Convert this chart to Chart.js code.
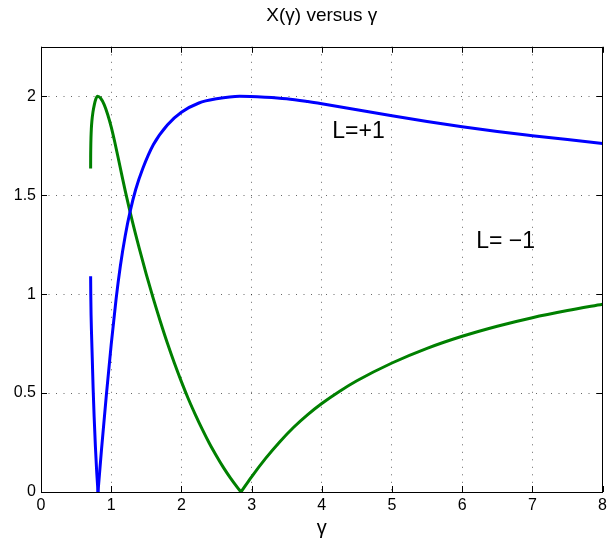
<!DOCTYPE html>
<html>
<head>
<meta charset="utf-8">
<script src="https://cdn.jsdelivr.net/npm/chart.js@4"></script>
<style>
  html, body { margin: 0; padding: 0; background: #fff; }
  canvas { display: block; }
</style>
</head>
<body>
<canvas id="chart" width="611" height="538"></canvas>
<script>
// L=+1 curve (blue), split at the cusp where it touches zero
const gammaPlusLeft = [0.707, 0.709, 0.713, 0.72, 0.73, 0.742, 0.757, 0.775, 0.793, 0.812];
const xPlusLeft = [1.09, 1.0, 0.9, 0.8, 0.68, 0.53, 0.38, 0.23, 0.105, 0];
const gammaPlusRight = [0.812, 0.86, 0.93, 1.0, 1.07, 1.13, 1.2, 1.27, 1.35, 1.45, 1.6, 1.8, 2.0, 2.25, 2.5, 2.83, 3.2, 3.5, 3.8, 4.0, 4.5, 5.0, 5.5, 6.0, 6.5, 7.0, 7.5, 8.0];
const xPlusRight = [0, 0.206, 0.486, 0.745, 0.976, 1.141, 1.295, 1.418, 1.53, 1.635, 1.755, 1.855, 1.919, 1.966, 1.987, 2.0, 1.995, 1.987, 1.973, 1.962, 1.932, 1.902, 1.873, 1.846, 1.822, 1.801, 1.781, 1.761];

// L=-1 curve (green), split at its cusp
const gammaMinusLeft = [0.707, 0.7075, 0.709, 0.712, 0.717, 0.725, 0.74, 0.76, 0.78, 0.805, 0.85, 0.9, 0.95, 1.0, 1.05, 1.1, 1.15, 1.2, 1.3, 1.4, 1.5, 1.6, 1.7, 1.8, 1.9, 2.0, 2.1, 2.2, 2.3, 2.4, 2.5, 2.6, 2.7, 2.8, 2.849];
const xMinusLeft = [1.635, 1.69, 1.74, 1.79, 1.835, 1.875, 1.92, 1.958, 1.985, 2.0, 1.99, 1.958, 1.908, 1.845, 1.77, 1.688, 1.604, 1.522, 1.37, 1.231, 1.1, 0.977, 0.862, 0.753, 0.652, 0.558, 0.47, 0.39, 0.315, 0.245, 0.182, 0.123, 0.07, 0.022, 0];
const gammaMinusRight = [2.849, 3.0, 3.2, 3.4, 3.6, 3.8, 4.0, 4.25, 4.5, 5.0, 5.5, 6.0, 6.5, 7.0, 7.5, 8.0];
const xMinusRight = [0, 0.077, 0.17, 0.253, 0.327, 0.391, 0.447, 0.508, 0.562, 0.652, 0.726, 0.787, 0.838, 0.881, 0.917, 0.949];

const xTickValues = [0, 1, 2, 3, 4, 5, 6, 7, 8];
const yTickValues = [0, 0.5, 1, 1.5, 2];

const curveLabels = [
    { text: 'L=+1', gamma: 4.15, value: 1.823 },
    { text: 'L= \u22121', gamma: 6.2, value: 1.265 },
];

const BLUE = '#0000ff';
const GREEN = '#008000';
const GRID = 'rgba(0,0,0,0.6)';
const FONT = '"Liberation Sans", Arial, Helvetica, sans-serif';

Chart.defaults.font.family = FONT;
Chart.defaults.color = '#000';

function toPoints(gs, vs) {
    return gs.map((g, i) => ({ x: g, y: vs[i] }));
}

function curve(gs, vs, color) {
    return {
        data: toPoints(gs, vs),
        borderColor: color,
        backgroundColor: color,
        borderWidth: 3,
        pointRadius: 0,
        showLine: true,
        fill: false,
        cubicInterpolationMode: 'monotone',
    };
}

// matlab style box: frame on all sides, ticks pointing inwards, text labels
const framePlugin = {
    id: 'frame',
    afterDatasetsDraw(chart) {
        const { ctx, chartArea: a, scales: { x, y } } = chart;
        const tick = 6;
        ctx.save();
        ctx.strokeStyle = '#000';
        ctx.lineWidth = 1;
        ctx.beginPath();
        x.ticks.forEach(t => {
            const px = Math.round(x.getPixelForValue(t.value)) + 0.5;
            ctx.moveTo(px, a.bottom);
            ctx.lineTo(px, a.bottom - tick);
            ctx.moveTo(px, a.top);
            ctx.lineTo(px, a.top + tick);
        });
        y.ticks.forEach(t => {
            const py = Math.round(y.getPixelForValue(t.value)) + 0.5;
            ctx.moveTo(a.left, py);
            ctx.lineTo(a.left + tick, py);
            ctx.moveTo(a.right, py);
            ctx.lineTo(a.right - tick, py);
        });
        ctx.stroke();
        ctx.strokeRect(Math.round(a.left) + 0.5, Math.round(a.top) + 0.5,
            Math.round(a.right - a.left) - 1, Math.round(a.bottom - a.top));

        ctx.font = '23px ' + FONT;
        ctx.fillStyle = '#000';
        ctx.textAlign = 'left';
        ctx.textBaseline = 'middle';
        curveLabels.forEach(l => {
            ctx.fillText(l.text, x.getPixelForValue(l.gamma), y.getPixelForValue(l.value));
        });
        ctx.restore();
    }
};

new Chart(document.getElementById('chart'), {
    type: 'scatter',
    data: {
        datasets: [
            curve(gammaPlusLeft, xPlusLeft, BLUE),
            curve(gammaPlusRight, xPlusRight, BLUE),
            curve(gammaMinusLeft, xMinusLeft, GREEN),
            curve(gammaMinusRight, xMinusRight, GREEN),
        ]
    },
    options: {
        responsive: false,
        animation: false,
        devicePixelRatio: 1,
        layout: { padding: { top: 0, right: 5, bottom: 0, left: 0 } },
        plugins: {
            legend: { display: false },
            tooltip: { enabled: false },
            title: {
                display: true,
                text: 'X(\u03b3) versus \u03b3',
                color: '#000',
                fullSize: false,
                font: { size: 19, weight: 'normal' },
                padding: { top: 4, bottom: 20 }
            }
        },
        scales: {
            x: {
                type: 'linear',
                min: 0,
                max: 8,
                afterBuildTicks: s => { s.ticks = xTickValues.map(v => ({ value: v })); },
                afterFit: s => { s.height = 46; },
                grid: { color: GRID, lineWidth: 1, drawTicks: false, borderDash: [1, 6.5] },
                border: { display: false, dash: [1, 6.5] },
                ticks: {
                    padding: 4,
                    color: '#000',
                    font: { size: 16 },
                    maxRotation: 0,
                    autoSkip: false,
                    callback: v => String(v)
                },
                title: {
                    display: true,
                    text: '\u03b3',
                    color: '#000',
                    font: { size: 20, lineHeight: 1.0 },
                    padding: { top: 0, bottom: 0 }
                }
            },
            y: {
                type: 'linear',
                min: 0,
                max: 2.25,
                afterBuildTicks: s => { s.ticks = yTickValues.map(v => ({ value: v })); },
                afterFit: s => { s.width = 41; },
                grid: { color: GRID, lineWidth: 1, drawTicks: false, borderDash: [1, 6.5] },
                border: { display: false, dash: [1, 6.5] },
                ticks: {
                    padding: 5,
                    color: '#000',
                    font: { size: 16 },
                    autoSkip: false,
                    callback: v => String(v)
                }
            }
        }
    },
    plugins: [framePlugin]
});
</script>
</body>
</html>
